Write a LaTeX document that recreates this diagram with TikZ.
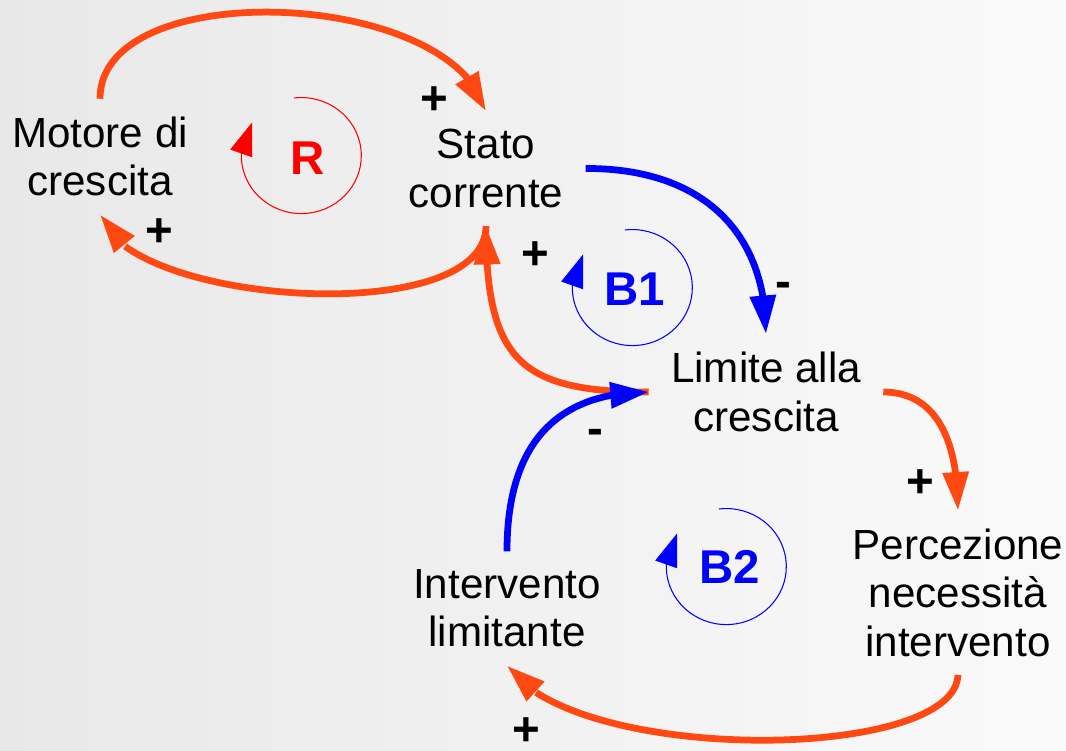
\documentclass[tikz,border=0pt]{standalone}
\usepackage{fontspec}
\setmainfont{Liberation Sans}
\usetikzlibrary{arrows.meta,bending}
\definecolor{cldorange}{RGB}{255,72,18}

\begin{document}
\begin{tikzpicture}[x=0.02cm, y=-0.02cm,
    var/.style={align=center, inner xsep=0.44cm, inner ysep=0.36cm, font=\fontsize{24}{27.5}\selectfont},
    polarity/.style={inner sep=0pt, font=\fontsize{27}{30}\selectfont\bfseries},
    loopname/.style={font=\fontsize{27}{30}\selectfont\bfseries},
    link/.style={line width=0.135cm, -{Triangle[length=0.77cm, width=0.5cm]}},
    loopline/.style={line width=0.6pt, -{Triangle[length=0.66cm, width=0.46cm]}}]
  \shade[left color=black!9, right color=black!2] (0,0) rectangle (1066,751);
  \useasboundingbox (0,0) rectangle (1066,751);

  \node[var] (motore) at (100,156.7) {Motore di\\crescita};
  \node[var] (stato) at (486,168.5) {Stato\\corrente};
  \node[var] (limite) at (766,392) {Limite alla\\crescita};
  \node[var] (percezione) at (958,592.7) {Percezione\\necessità\\intervento};
  \node[var] (intervento) at (507,608.5) {Intervento\\limitante};

  \draw[link, cldorange] (motore.north) .. controls (100,-25) and (452,-12) .. (stato.north);
  \draw[link, cldorange] (stato.south) .. controls (486,330) and (125,305) .. (motore.south);
  \draw[link, cldorange] (limite.west) .. controls (520,392) and (486,360) .. (stato.south);
  \draw[link, blue] (stato.east) .. controls (700,168) and (766,230) .. (limite.north);
  \draw[link, cldorange] (limite.east) .. controls (930,392) and (958,430) .. (percezione.north);
  \draw[link, cldorange] (percezione.south) .. controls (955,762) and (575,765) .. (intervento.south);
  \draw[link, blue] (intervento.north) .. controls (507,440) and (560,392) .. (limite.west);

  \node[polarity] (p1) at (434,101) {+};
  \node[polarity] (p2) at (159,233) {+};
  \node[polarity] (p3) at (535,256) {+};
  \node[polarity] (m1) at (783.5,290) {-};
  \node[polarity] (m2) at (595,437) {-};
  \node[polarity] (p4) at (920,484) {+};
  \node[polarity] (p5) at (526,732) {+};

  \node[loopname, red] (lR) at (308,158) {R};
  \draw[loopline, red] (lR.center) ++(-14,-60) arc[start angle=-97, end angle=215, x radius=60, y radius=58];
  \node[loopname, blue] (lB1) at (635,289) {B1};
  \draw[loopline, blue] (lB1.center) ++(-10,-59) arc[start angle=-97, end angle=215, x radius=60, y radius=58];
  \node[loopname, blue] (lB2) at (730,567) {B2};
  \draw[loopline, blue] (lB2.center) ++(-11,-58) arc[start angle=-97, end angle=215, x radius=60, y radius=58];
\end{tikzpicture}
\end{document}
